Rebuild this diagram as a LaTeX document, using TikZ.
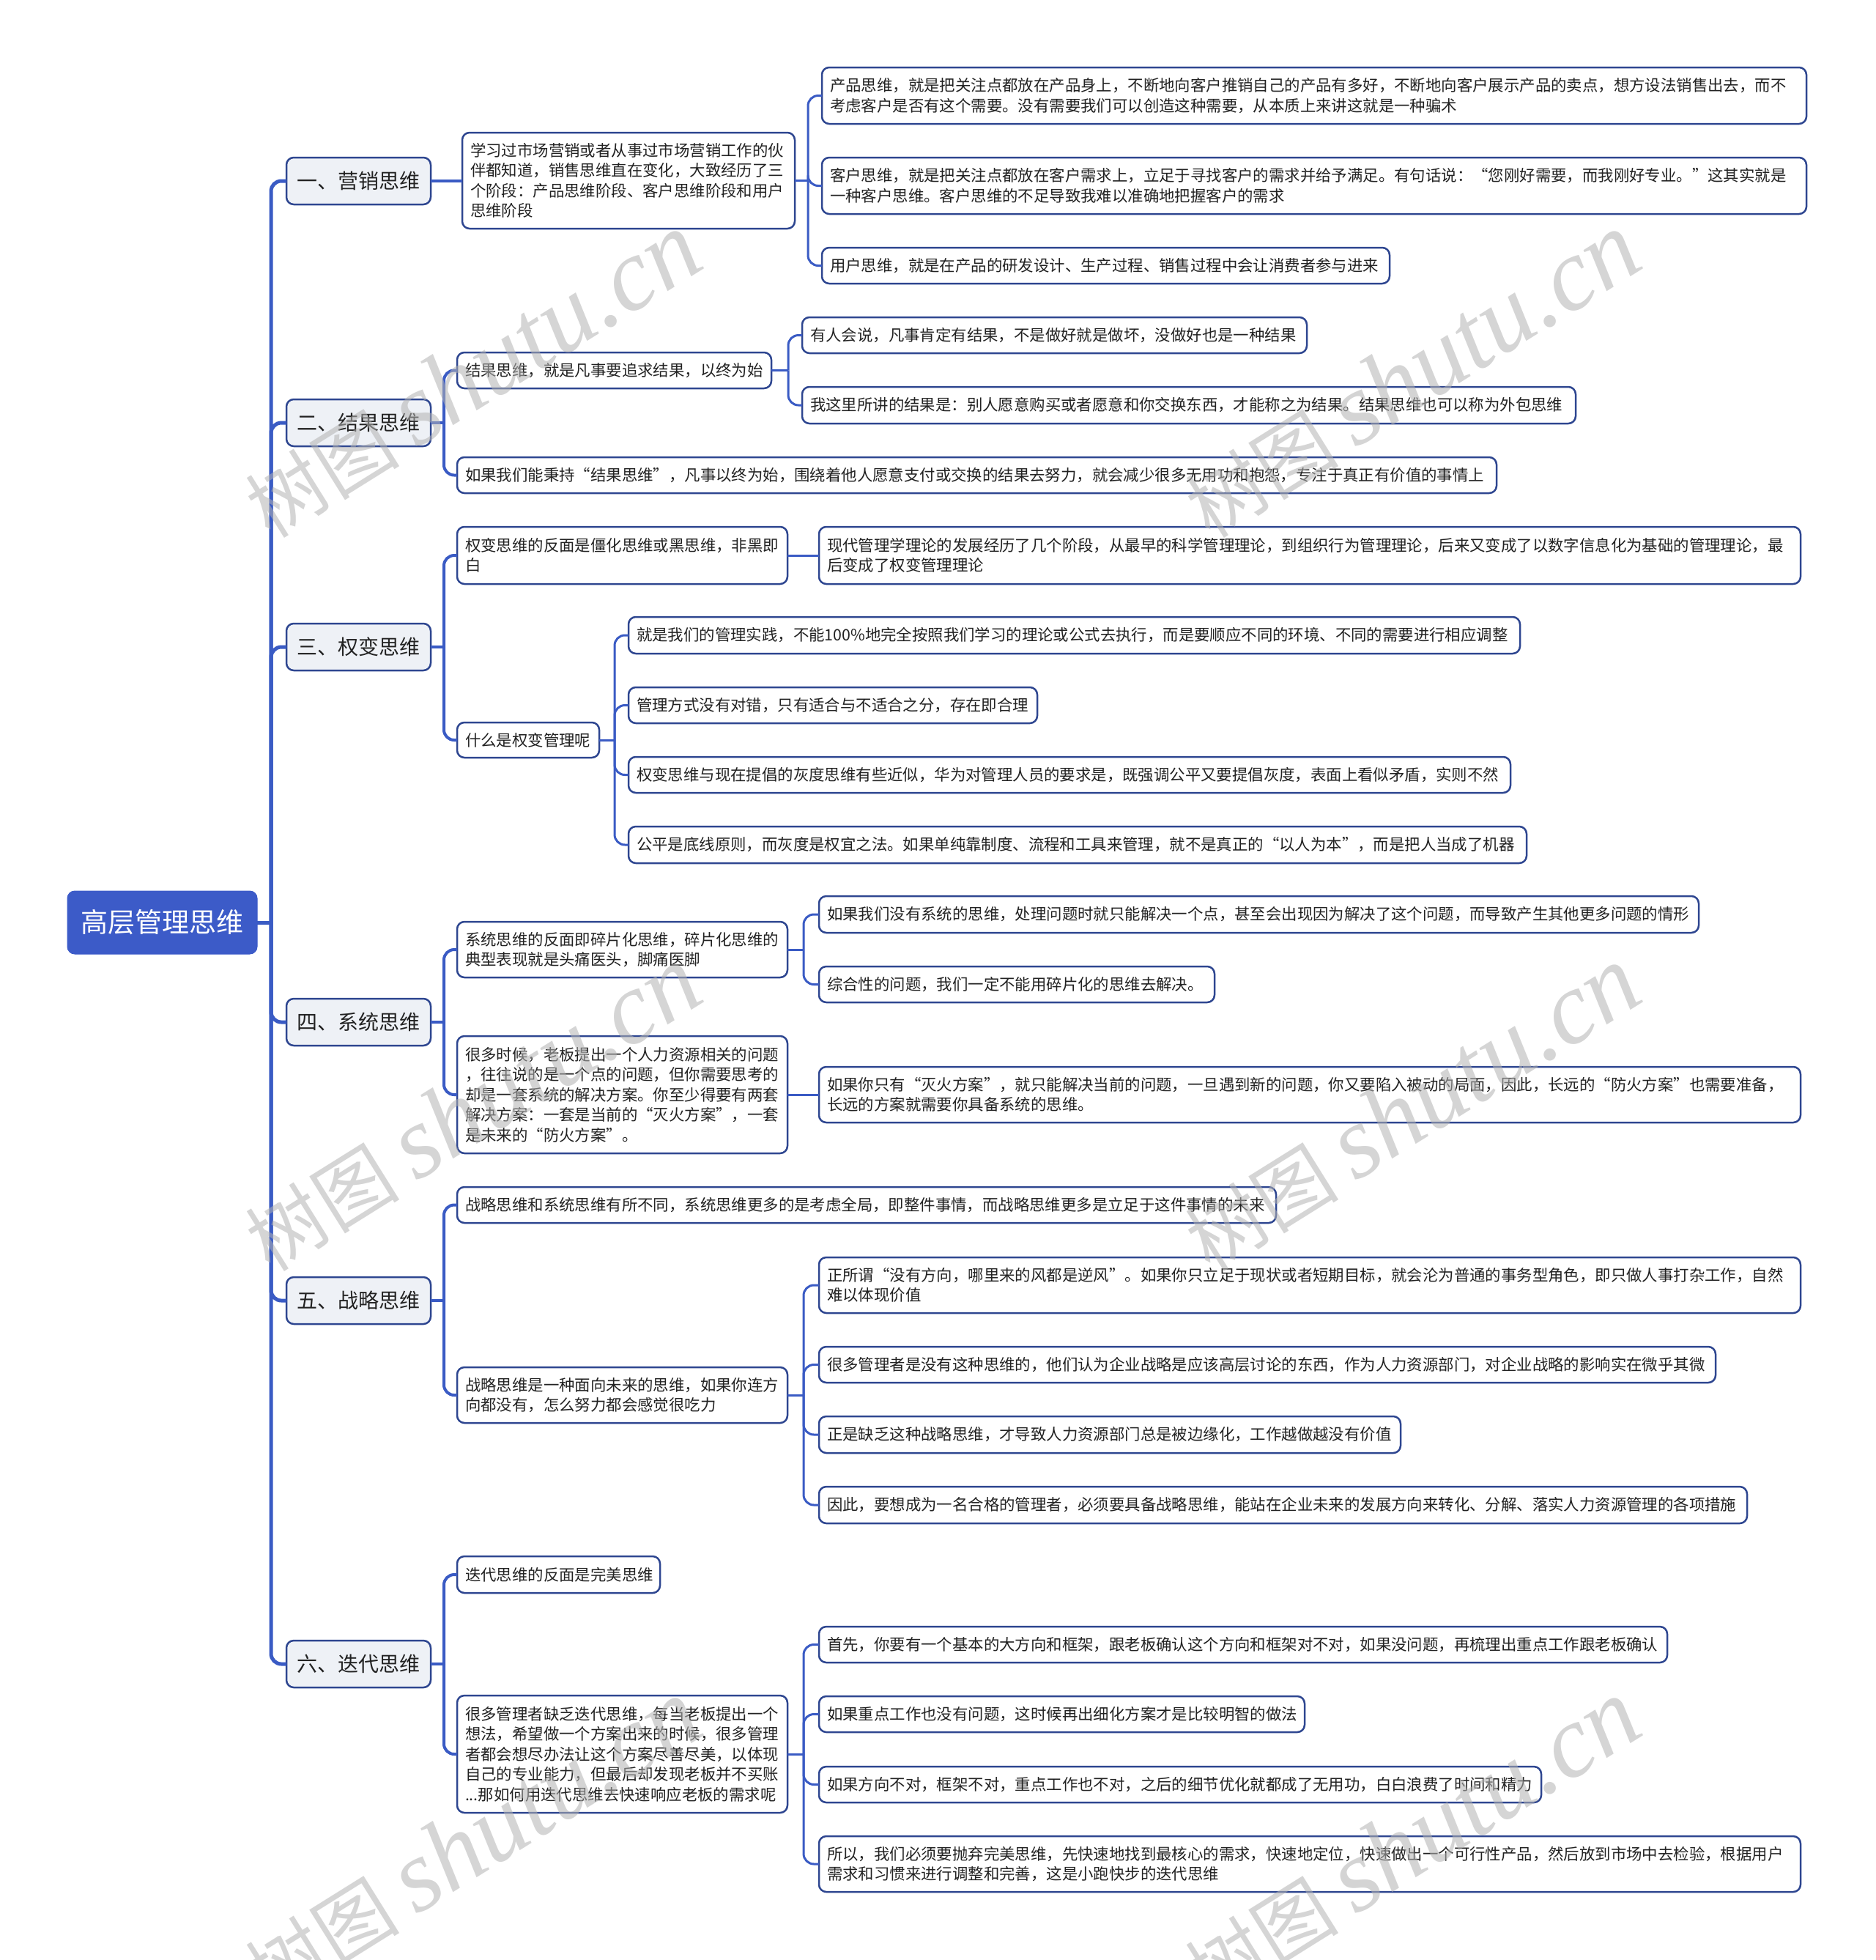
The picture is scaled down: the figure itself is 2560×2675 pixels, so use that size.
\documentclass[tikz,border=0pt]{standalone}
\usepackage{fontspec}
\setmainfont{Noto Sans CJK SC}
\newfontfamily\wmlatin{Liberation Serif}
\definecolor{linec}{HTML}{3A5BC4}
\definecolor{borderc}{HTML}{2E4690}
\definecolor{lvfill}{HTML}{EEF1F6}
\definecolor{rootc}{HTML}{3C5BC8}
\definecolor{txt}{HTML}{222222}
\newcommand\bx[7]{%
 \pgfmathsetmacro\bxw{#5-#3-22}%
 \pgfmathsetmacro\bxh{#6-#4}%
 \pgfmathsetmacro\bxy{-(#4+#6)/2}%
 \node[#1, text width=\bxw pt, minimum height=\bxh pt, anchor=west] (#2) at (#3pt,\bxy pt) {#7};}
\newcommand\lk[4]{%
 \coordinate (tmpx) at (#4pt,0);
 \draw[#1] (#2.east) -- (#2.east -| tmpx);
 \draw[#1, rounded corners=14pt] (#2.east -| tmpx) |- (#3.west);}
\newcommand\st[3]{\draw[#1] (#2.east) -- (#2.east -| #3.west);}
\tikzset{
 box/.style={draw=borderc, line width=2.5pt, fill=white, rounded corners=10pt, inner xsep=11pt, inner ysep=0pt, outer sep=0pt, align=left, text=txt, font=\fontsize{21.4pt}{27.5pt}\selectfont},
 lvone/.style={box, fill=lvfill, align=center, font=\fontsize{28pt}{32pt}\selectfont},
 rootst/.style={rounded corners=10pt, fill=rootc, draw=rootc, line width=1pt, inner xsep=11pt, inner ysep=0pt, outer sep=0pt, text=white, align=center, font=\fontsize{37pt}{40pt}\selectfont},
 trunk/.style={draw=linec, line width=5pt},
 lktwo/.style={draw=linec, line width=4pt},
 lkthree/.style={draw=linec, line width=3pt},
 wm/.style={rotate=32, text=black!30, opacity=0.55, inner sep=0pt, font=\fontsize{105pt}{110pt}\selectfont}
}
\begin{document}
\begin{tikzpicture}
\useasboundingbox (0,0) rectangle (2560pt,-2675pt);
% root
\bx{rootst}{root}{92}{1216}{351}{1302}{高层管理思维}
% level 1
\bx{lvone}{m1}{391}{215}{588}{279}{一、营销思维}
\bx{lvone}{m2}{391}{545}{588}{609}{二、结果思维}
\bx{lvone}{m3}{391}{851}{588}{915}{三、权变思维}
\bx{lvone}{m4}{391}{1363}{588}{1427}{四、系统思维}
\bx{lvone}{m5}{391}{1743}{588}{1807}{五、战略思维}
\bx{lvone}{m6}{391}{2239}{588}{2303}{六、迭代思维}
% group 1
\bx{box}{a1}{631}{181}{1085}{312}{学习过市场营销或者从事过市场营销工作的伙\\伴都知道，销售思维直在变化，大致经历了三\\个阶段：产品思维阶段、客户思维阶段和用户\\思维阶段}
\bx{box}{a11}{1122}{92}{2466}{169}{产品思维，就是把关注点都放在产品身上，不断地向客户推销自己的产品有多好，不断地向客户展示产品的卖点，想方设法销售出去，而不\\考虑客户是否有这个需要。没有需要我们可以创造这种需要，从本质上来讲这就是一种骗术}
\bx{box}{a12}{1122}{215}{2466}{292}{客户思维，就是把关注点都放在客户需求上，立足于寻找客户的需求并给予满足。有句话说：“您刚好需要，而我刚好专业。”这其实就是\\一种客户思维。客户思维的不足导致我难以准确地把握客户的需求}
\bx{box}{a13}{1122}{338}{1897}{387}{用户思维，就是在产品的研发设计、生产过程、销售过程中会让消费者参与进来}
% group 2
\bx{box}{b1}{624}{481}{1053}{530}{结果思维，就是凡事要追求结果，以终为始}
\bx{box}{b11}{1095}{433}{1784}{482}{有人会说，凡事肯定有结果，不是做好就是做坏，没做好也是一种结果}
\bx{box}{b12}{1095}{528}{2151}{578}{我这里所讲的结果是：别人愿意购买或者愿意和你交换东西，才能称之为结果。结果思维也可以称为外包思维}
\bx{box}{b2}{624}{624}{2043}{673}{如果我们能秉持“结果思维”，凡事以终为始，围绕着他人愿意支付或交换的结果去努力，就会减少很多无用功和抱怨，专注于真正有价值的事情上}
% group 3
\bx{box}{c1}{624}{719}{1075}{797}{权变思维的反面是僵化思维或黑思维，非黑即\\白}
\bx{box}{c11}{1118}{719}{2458}{797}{现代管理学理论的发展经历了几个阶段，从最早的科学管理理论，到组织行为管理理论，后来又变成了以数字信息化为基础的管理理论，最\\后变成了权变管理理论}
\bx{box}{c2}{624}{986}{818}{1034}{什么是权变管理呢}
\bx{box}{c21}{858}{842}{2075}{892}{就是我们的管理实践，不能100\%地完全按照我们学习的理论或公式去执行，而是要顺应不同的环境、不同的需要进行相应调整}
\bx{box}{c22}{858}{938}{1416}{987}{管理方式没有对错，只有适合与不适合之分，存在即合理}
\bx{box}{c23}{858}{1033}{2062}{1082}{权变思维与现在提倡的灰度思维有些近似，华为对管理人员的要求是，既强调公平又要提倡灰度，表面上看似矛盾，实则不然}
\bx{box}{c24}{858}{1128}{2084}{1178}{公平是底线原则，而灰度是权宜之法。如果单纯靠制度、流程和工具来管理，就不是真正的“以人为本”，而是把人当成了机器}
% group 4
\bx{box}{d1}{624}{1258}{1075}{1334}{系统思维的反面即碎片化思维，碎片化思维的\\典型表现就是头痛医头，脚痛医脚}
\bx{box}{d11}{1118}{1223}{2319}{1273}{如果我们没有系统的思维，处理问题时就只能解决一个点，甚至会出现因为解决了这个问题，而导致产生其他更多问题的情形}
\bx{box}{d12}{1118}{1319}{1658}{1368}{综合性的问题，我们一定不能用碎片化的思维去解决。}
\bx{box}{d2}{624}{1414}{1075}{1574}{很多时候，老板提出一个人力资源相关的问题\\，往往说的是一个点的问题，但你需要思考的\\却是一套系统的解决方案。你至少得要有两套\\解决方案：一套是当前的“灭火方案”，一套\\是未来的“防火方案”。}
\bx{box}{d21}{1118}{1456}{2458}{1532}{如果你只有“灭火方案”，就只能解决当前的问题，一旦遇到新的问题，你又要陷入被动的局面，因此，长远的“防火方案”也需要准备，\\长远的方案就需要你具备系统的思维。}
% group 5
\bx{box}{e1}{624}{1620}{1742}{1669}{战略思维和系统思维有所不同，系统思维更多的是考虑全局，即整件事情，而战略思维更多是立足于这件事情的未来}
\bx{box}{e2}{624}{1866}{1075}{1942}{战略思维是一种面向未来的思维，如果你连方\\向都没有，怎么努力都会感觉很吃力}
\bx{box}{e21}{1118}{1716}{2458}{1792}{正所谓“没有方向，哪里来的风都是逆风”。如果你只立足于现状或者短期目标，就会沦为普通的事务型角色，即只做人事打杂工作，自然\\难以体现价值}
\bx{box}{e22}{1118}{1838}{2342}{1887}{很多管理者是没有这种思维的，他们认为企业战略是应该高层讨论的东西，作为人力资源部门，对企业战略的影响实在微乎其微}
\bx{box}{e23}{1118}{1933}{1912}{1983}{正是缺乏这种战略思维，才导致人力资源部门总是被边缘化，工作越做越没有价值}
\bx{box}{e24}{1118}{2029}{2385}{2079}{因此，要想成为一名合格的管理者，必须要具备战略思维，能站在企业未来的发展方向来转化、分解、落实人力资源管理的各项措施}
% group 6
\bx{box}{f1}{624}{2124}{901}{2174}{迭代思维的反面是完美思维}
\bx{box}{f2}{624}{2314}{1075}{2474}{很多管理者缺乏迭代思维，每当老板提出一个\\想法，希望做一个方案出来的时候，很多管理\\者都会想尽办法让这个方案尽善尽美，以体现\\自己的专业能力，但最后却发现老板并不买账\\...那如何用迭代思维去快速响应老板的需求呢}
\bx{box}{f21}{1118}{2220}{2276}{2269}{首先，你要有一个基本的大方向和框架，跟老板确认这个方向和框架对不对，如果没问题，再梳理出重点工作跟老板确认}
\bx{box}{f22}{1118}{2315}{1781}{2364}{如果重点工作也没有问题，这时候再出细化方案才是比较明智的做法}
\bx{box}{f23}{1118}{2411}{2104}{2460}{如果方向不对，框架不对，重点工作也不对，之后的细节优化就都成了无用功，白白浪费了时间和精力}
\bx{box}{f24}{1118}{2506}{2458}{2582}{所以，我们必须要抛弃完美思维，先快速地找到最核心的需求，快速地定位，快速做出一个可行性产品，然后放到市场中去检验，根据用户\\需求和习惯来进行调整和完善，这是小跑快步的迭代思维}
% connectors: trunk
\lk{trunk}{root}{m1}{370}
\lk{trunk}{root}{m2}{370}
\lk{trunk}{root}{m3}{370}
\lk{trunk}{root}{m4}{370}
\lk{trunk}{root}{m5}{370}
\lk{trunk}{root}{m6}{370}
% level 1 -> 2
\st{lktwo}{m1}{a1}
\lk{lktwo}{m2}{b1}{606}
\lk{lktwo}{m2}{b2}{606}
\lk{lktwo}{m3}{c1}{606}
\lk{lktwo}{m3}{c2}{606}
\lk{lktwo}{m4}{d1}{606}
\lk{lktwo}{m4}{d2}{606}
\lk{lktwo}{m5}{e1}{606}
\lk{lktwo}{m5}{e2}{606}
\lk{lktwo}{m6}{f1}{606}
\lk{lktwo}{m6}{f2}{606}
% level 2 -> 3
\lk{lkthree}{a1}{a11}{1103}
\lk{lkthree}{a1}{a12}{1103}
\lk{lkthree}{a1}{a13}{1103}
\lk{lkthree}{b1}{b11}{1076}
\lk{lkthree}{b1}{b12}{1076}
\st{lkthree}{c1}{c11}
\lk{lkthree}{c2}{c21}{839}
\lk{lkthree}{c2}{c22}{839}
\lk{lkthree}{c2}{c23}{839}
\lk{lkthree}{c2}{c24}{839}
\lk{lkthree}{d1}{d11}{1097}
\lk{lkthree}{d1}{d12}{1097}
\st{lkthree}{d2}{d21}
\lk{lkthree}{e2}{e21}{1097}
\lk{lkthree}{e2}{e22}{1097}
\lk{lkthree}{e2}{e23}{1097}
\lk{lkthree}{e2}{e24}{1097}
\lk{lkthree}{f2}{f21}{1097}
\lk{lkthree}{f2}{f22}{1097}
\lk{lkthree}{f2}{f23}{1097}
\lk{lkthree}{f2}{f24}{1097}
% watermarks
\node[wm] (w1) at (645pt,-512pt) {树图 {\wmlatin\itshape\fontsize{140pt}{140pt}\selectfont shutu.cn}};
\node[wm] (w2) at (1927pt,-512pt) {树图 {\wmlatin\itshape\fontsize{140pt}{140pt}\selectfont shutu.cn}};
\node[wm] (w3) at (645pt,-1513pt) {树图 {\wmlatin\itshape\fontsize{140pt}{140pt}\selectfont shutu.cn}};
\node[wm] (w4) at (1927pt,-1513pt) {树图 {\wmlatin\itshape\fontsize{140pt}{140pt}\selectfont shutu.cn}};
\node[wm] (w5) at (645pt,-2514pt) {树图 {\wmlatin\itshape\fontsize{140pt}{140pt}\selectfont shutu.cn}};
\node[wm] (w6) at (1927pt,-2514pt) {树图 {\wmlatin\itshape\fontsize{140pt}{140pt}\selectfont shutu.cn}};
\end{tikzpicture}
\end{document}
